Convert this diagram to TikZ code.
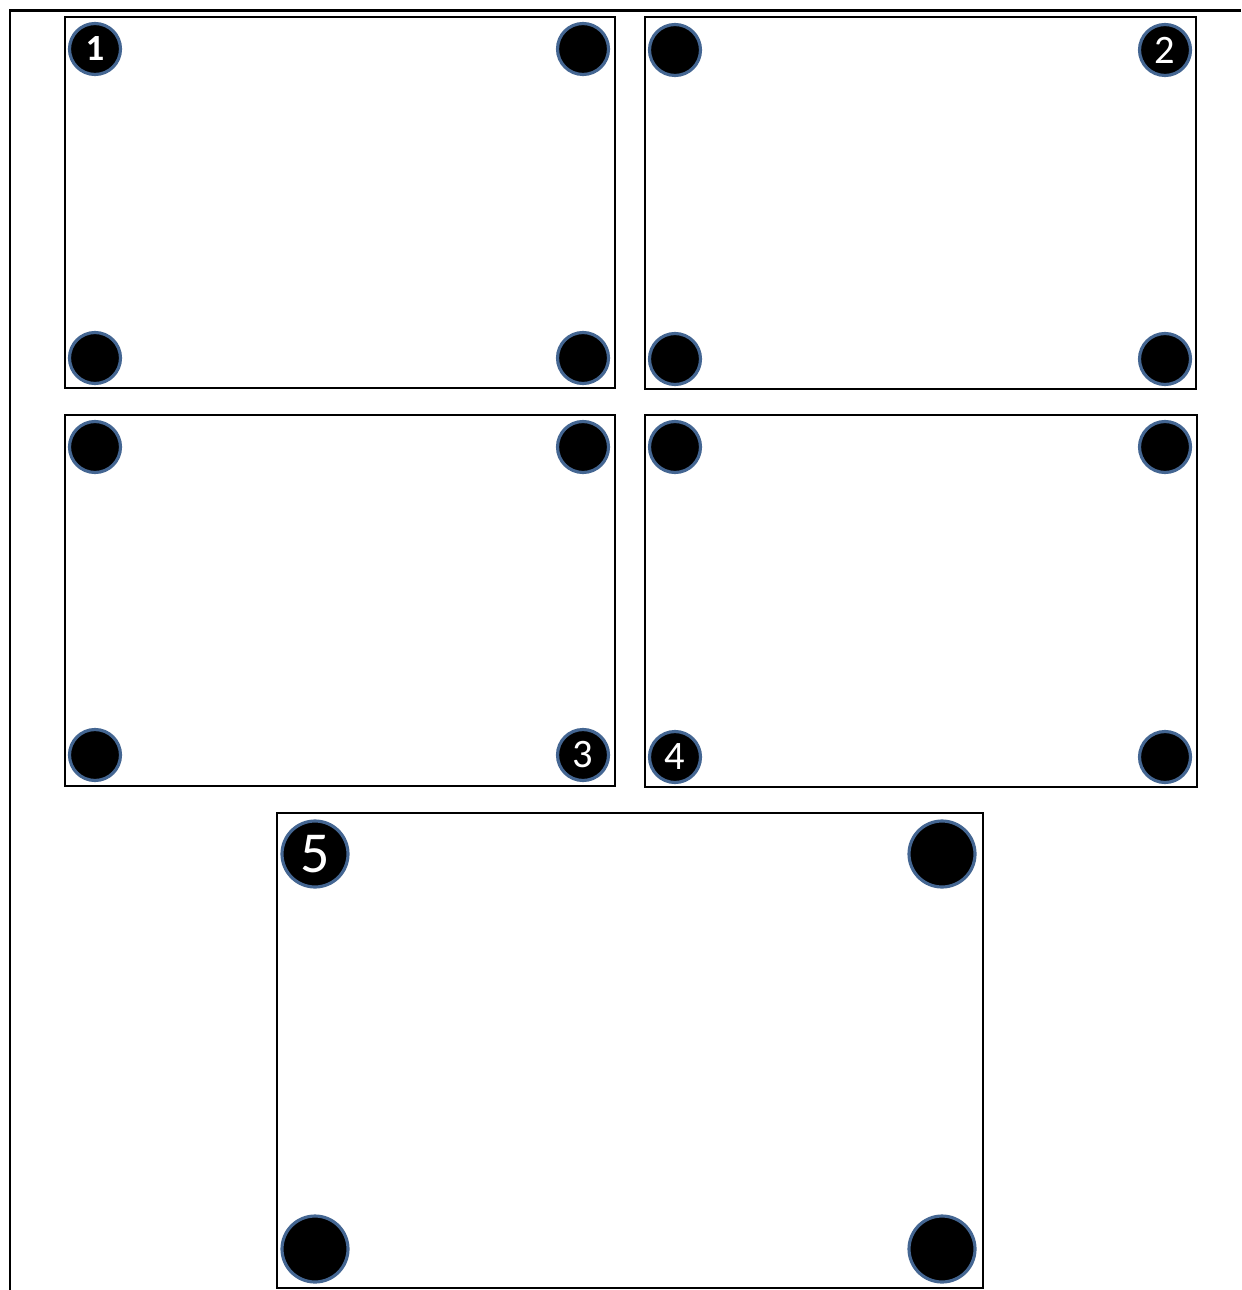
\documentclass[tikz,border=0pt]{standalone}
\usepackage{fontspec}
\setmainfont{Carlito}
\definecolor{ringblue}{RGB}{68,102,146}
\begin{document}
\begin{tikzpicture}[x=0.02cm,y=-0.02cm,
  plate/.style={draw,line width=1.1pt,inner sep=0pt},
  hole/.style={circle,fill=black,draw=ringblue,line width=1.8pt,minimum size=1.02cm,inner sep=0pt,text=white,font=\fontsize{23}{23}\selectfont},
  bighole/.style={hole,minimum size=1.32cm,font=\fontsize{33}{33}\selectfont}]
\useasboundingbox (0,0) rectangle (1241,1290);
\draw[line width=1.7pt] (10,1290) -- (10,11) -- (1241,11);
% plates
\node[plate,minimum width=11cm,minimum height=7.42cm] (P1) at (340,202.5) {};
\node[plate,minimum width=11.02cm,minimum height=7.44cm] (P2) at (920.5,203) {};
\node[plate,minimum width=11cm,minimum height=7.42cm] (P3) at (340,600.5) {};
\node[plate,minimum width=11.04cm,minimum height=7.44cm] (P4) at (921,601) {};
\node[plate,minimum width=14.12cm,minimum height=9.5cm] (P5) at (630,1050.5) {};
% holes, plate 1
\node[hole,font=\bfseries\fontsize{21}{21}\selectfont] (H1a) at (95,49) {1};
\node[hole] (H1b) at (583,49) {};
\node[hole] (H1c) at (95,358) {};
\node[hole] (H1d) at (583,358) {};
% plate 2
\node[hole] (H2a) at (675,50) {};
\node[hole] (H2b) at (1165,50) {2};
\node[hole] (H2c) at (675,359) {};
\node[hole] (H2d) at (1165,359) {};
% plate 3
\node[hole] (H3a) at (95,447) {};
\node[hole] (H3b) at (583,447) {};
\node[hole] (H3c) at (95,755) {};
\node[hole] (H3d) at (583,755) {3};
% plate 4
\node[hole] (H4a) at (675,447) {};
\node[hole] (H4b) at (1165,447) {};
\node[hole] (H4c) at (675,757) {4};
\node[hole] (H4d) at (1165,757) {};
% plate 5
\node[bighole] (H5a) at (315,854) {5};
\node[bighole] (H5b) at (942,854) {};
\node[bighole] (H5c) at (315,1249) {};
\node[bighole] (H5d) at (942,1249) {};
\end{tikzpicture}
\end{document}
